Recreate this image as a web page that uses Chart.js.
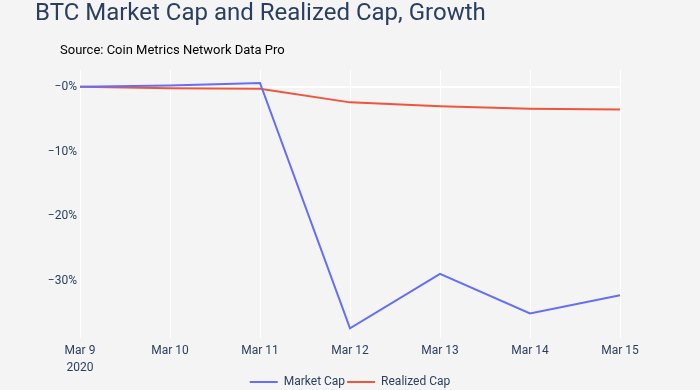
<!DOCTYPE html>
<html>
<head>
<meta charset="utf-8">
<script src="https://cdn.jsdelivr.net/npm/chart.js@4"></script>
<style>
  html, body { margin: 0; padding: 0; background: #f4f4f4; }
  #wrap { position: relative; width: 700px; height: 390px; font-family: Roboto, sans-serif; }
  #title { position: absolute; left: 35px; top: -2px; font-size: 24px; color: #2a3f5f; white-space: nowrap; }
  #source { position: absolute; left: 60px; top: 42px; font-size: 13px; color: #000; white-space: nowrap; }
  canvas { position: absolute; left: 0; top: 0; }
</style>
</head>
<body>
<div id="wrap">
  <canvas id="chart" width="700" height="390"></canvas>
  <div id="title">BTC Market Cap and Realized Cap, Growth</div>
  <div id="source">Source: Coin Metrics Network Data Pro</div>
</div>
<script>
// dates on the x axis
const dates = [['Mar 9', '2020'], 'Mar 10', 'Mar 11', 'Mar 12', 'Mar 13', 'Mar 14', 'Mar 15'];

// growth since Mar 9, in percent
const marketCap = [0, 0.2, 0.6, -37.3, -28.9, -35.0, -32.2];
const realizedCap = [0, -0.2, -0.3, -2.4, -3.0, -3.4, -3.5];

const yTicks = [0, -10, -20, -30];

const tickFont = { family: 'Roboto', size: 12 };

const ctx = document.getElementById('chart');

new Chart(ctx, {
  type: 'line',
  data: {
    labels: dates,
    datasets: [
      {
        label: 'Market Cap',
        data: marketCap,
        borderColor: '#636efa',
        backgroundColor: '#636efa',
        borderWidth: 2,
        pointRadius: 0,
        tension: 0,
      },
      {
        label: 'Realized Cap',
        data: realizedCap,
        borderColor: '#ef553b',
        backgroundColor: '#ef553b',
        borderWidth: 2,
        pointRadius: 0,
        tension: 0,
      },
    ],
  },
  options: {
    responsive: false,
    animation: false,
    layout: {
      padding: { top: 70, right: 0, left: 0, bottom: -8 },
    },
    scales: {
      x: {
        offset: false,
        afterFit: (scale) => { scale.height = 36; },
        grid: { color: '#ffffff', lineWidth: 1, drawTicks: false },
        border: { display: false },
        ticks: {
          color: '#2a3f5f',
          font: { family: 'Roboto', size: 12, lineHeight: 1.4 },
          padding: 5,
          maxRotation: 0,
        },
      },
      y: {
        min: -38.8,
        max: 2.6,
        afterFit: (scale) => { scale.width = 80; },
        afterBuildTicks: (scale) => {
          scale.ticks = yTicks.map((v) => ({ value: v }));
        },
        grid: {
          drawTicks: false,
          color: (c) => (c.tick && c.tick.value === 0 ? '#ffffff' : 'rgba(0,0,0,0)'),
          lineWidth: (c) => (c.tick && c.tick.value === 0 ? 2 : 0),
        },
        border: { display: false },
        ticks: {
          color: '#2a3f5f',
          font: tickFont,
          padding: 3,
          callback: (v) => '\u2212' + Math.abs(v) + '%',
        },
      },
      // empty right margin so the legend centres under the plot
      yRight: {
        position: 'right',
        display: true,
        afterFit: (scale) => { scale.width = 80; },
        grid: { display: false },
        ticks: { display: false },
        border: { display: false },
      },
    },
    plugins: {
      legend: {
        position: 'bottom',
        labels: {
          usePointStyle: true,
          pointStyle: 'line',
          pointStyleWidth: 28,
          boxHeight: 2,
          color: '#2a3f5f',
          font: tickFont,
          padding: 2,
        },
      },
      tooltip: { enabled: false },
    },
  },
});
</script>
</body>
</html>
